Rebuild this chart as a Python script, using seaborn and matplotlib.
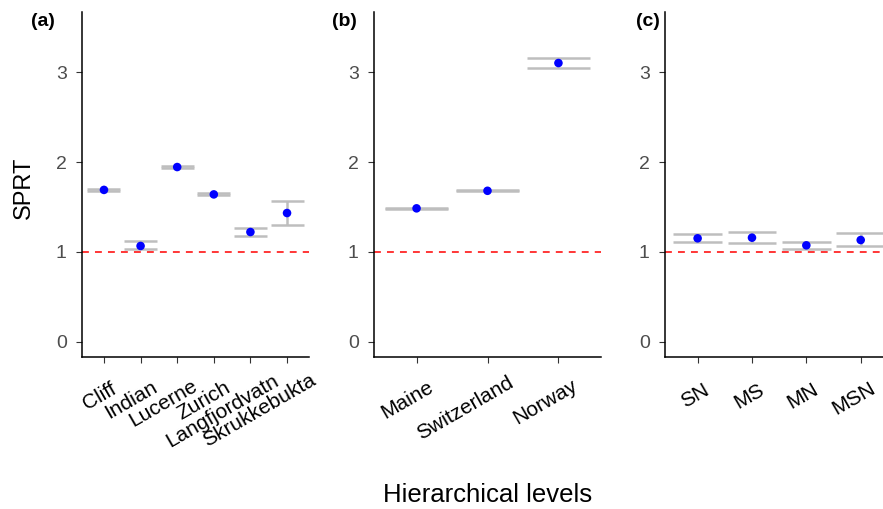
import numpy as np
import pandas as pd
import matplotlib
matplotlib.use('Agg')
import matplotlib.pyplot as plt
import matplotlib.transforms as mtransforms
from matplotlib.font_manager import FontProperties
import seaborn as sns

# Panel (a): lakes
sites = ['Cliff', 'Indian', 'Lucerne', 'Zurich', 'Langfjordvatn', 'Skrukkebukta']
sites_mean = [1.69, 1.067, 1.944, 1.64, 1.222, 1.433]
sites_lo = [1.68, 1.03, 1.935, 1.63, 1.181, 1.303]
sites_hi = [1.70, 1.118, 1.953, 1.65, 1.267, 1.563]

# Panel (b): regions
regions = ['Maine', 'Switzerland', 'Norway']
regions_mean = [1.485, 1.68, 3.10]
regions_lo = [1.48, 1.675, 3.05]
regions_hi = [1.49, 1.685, 3.153]

# Panel (c): models
models = ['SN', 'MS', 'MN', 'MSN']
models_mean = [1.152, 1.159, 1.074, 1.133]
models_lo = [1.115, 1.10, 1.033, 1.067]
models_hi = [1.197, 1.219, 1.111, 1.207]

sns.set_style('white')
plt.rcParams['font.family'] = ['Liberation Sans', 'DejaVu Sans']
plt.rcParams['text.color'] = 'black'

W, H = 883, 509
fig = plt.figure(figsize=(W / 100, H / 100), dpi=100)
renderer = fig.canvas.get_renderer()

top_px, bot_px = 12, 357
ANG = 30
xfont = FontProperties(family=['Liberation Sans'], size=15)

# name, cats, mean, lo, hi, axis left/right px, xlim, label x px
panels = [
    ('(a)', sites, sites_mean, sites_lo, sites_hi, 82, 309, (-0.6, 5.6), 31),
    ('(b)', regions, regions_mean, regions_lo, regions_hi, 374, 601, (-0.6, 2.6), 332),
    ('(c)', models, models_mean, models_lo, models_hi, 665, 883, (-0.6, 3.41), 636),
]

for label, cats, mean, lo, hi, x0, x1, xlim, lab_x in panels:
    ax = fig.add_axes([x0 / W, 1 - bot_px / H, (x1 - x0) / W, (bot_px - top_px) / H])
    df = pd.DataFrame({'cat': pd.Categorical(cats, categories=cats), 'mean': mean,
                       'lo': lo, 'hi': hi})
    xs = np.arange(len(cats))
    ax.axhline(1, color='red', ls=(0, (4.5, 4)), lw=1.1, zorder=1)
    ax.hlines(df['lo'], xs - 0.45, xs + 0.45, color='#BEBEBE', lw=1.8, zorder=2)
    ax.hlines(df['hi'], xs - 0.45, xs + 0.45, color='#BEBEBE', lw=1.8, zorder=2)
    ax.vlines(xs, df['lo'], df['hi'], color='#BEBEBE', lw=1.8, zorder=2)
    sns.scatterplot(data=df, x='cat', y='mean', color='blue', s=38, edgecolor='none',
                    ax=ax, zorder=3)
    ax.set_xlim(*xlim)
    ax.set_ylim(-0.167, 3.667)
    ax.set_yticks([0, 1, 2, 3])
    ax.set_xticks(xs)
    ax.set_xticklabels([])
    ax.tick_params(axis='y', labelsize=14, labelcolor='#4D4D4D', length=4, width=0.8,
                   color='#333333', left=True, pad=7)
    ax.tick_params(axis='x', length=4, width=0.8, color='#333333', bottom=True)
    ax.set_xlabel('')
    ax.set_ylabel('')
    for s in ['top', 'right']:
        ax.spines[s].set_visible(False)
    for s in ['left', 'bottom']:
        ax.spines[s].set_color('black')
        ax.spines[s].set_linewidth(1.1)

    # rotated category labels, justified at ~80% of their length
    c, sn = np.cos(np.radians(ANG)), np.sin(np.radians(ANG))
    for i, name in enumerate(cats):
        L = renderer.get_text_width_height_descent(name, xfont, ismath=False)[0]
        dx = 0.2 * L * c + 0.5
        dy = -(26.3 - 0.2 * L * sn)
        off = mtransforms.ScaledTranslation(dx / 100, dy / 100, fig.dpi_scale_trans)
        ax.text(i, 0, name, transform=ax.get_xaxis_transform() + off,
                rotation=ANG, rotation_mode='anchor', ha='right', va='top',
                fontproperties=xfont, color='black', clip_on=False)

    fig.text(lab_x / W, 1 - 22 / H, label, fontsize=14, fontweight='bold',
             ha='left', va='center')

fig.text(24 / W, 1 - 188 / H, 'SPRT', fontsize=17, rotation=90, ha='center', va='center')
fig.text(487.5 / W, 1 - 502 / H, 'Hierarchical levels', fontsize=18.5,
         ha='center', va='baseline')

fig.savefig('out.png', dpi=100)
